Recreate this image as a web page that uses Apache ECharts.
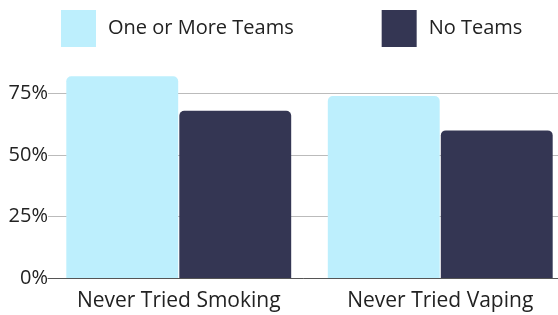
<!DOCTYPE html>
<html>
<head>
<meta charset="utf-8">
<script src="https://cdn.jsdelivr.net/npm/echarts@6/dist/echarts.min.js"></script>
<style>
  html, body { margin: 0; padding: 0; background: #fff; }
  #chart { width: 558px; height: 315px; }
</style>
</head>
<body>
<div id="chart"></div>
<script>
// data
const categories = ["Never Tried Smoking", "Never Tried Vaping"];
const oneOrMore = [82, 74];
const noTeams = [68, 60];

const chart = echarts.init(document.getElementById("chart"));
chart.setOption({
  animation: false,
  textStyle: { fontFamily: "Open Sans" },
  legend: {
    left: 61,
    top: 10,
    padding: 0,
    itemWidth: 35,
    itemHeight: 37,
    itemGap: 88,
    icon: "rect",
    textStyle: { fontSize: 20, color: "#222", padding: [0, 0, 0, 7] },
    data: ["One or More Teams", "No Teams"]
  },
  grid: {
    left: 48,
    width: 523,
    top: 32,
    bottom: 37,
    containLabel: false,
    outerBoundsMode: "none"
  },
  xAxis: {
    type: "category",
    data: categories,
    axisTick: { show: false },
    axisLine: { lineStyle: { color: "#555", width: 1 } },
    axisLabel: { fontSize: 21, color: "#222", margin: 13, interval: 0, hideOverlap: false }
  },
  yAxis: {
    type: "value",
    min: 0,
    max: 100,
    interval: 25,
    axisLine: { show: false },
    axisTick: { show: false },
    axisLabel: {
      fontSize: 20,
      color: "#222",
      margin: 0,
      showMaxLabel: false,
      formatter: "{value}%"
    },
    splitLine: { showMaxLine: false, lineStyle: { color: "#bbb" } }
  },
  series: [
    {
      name: "One or More Teams",
      type: "bar",
      data: oneOrMore,
      barGap: "1%",
      barCategoryGap: "14%",
      itemStyle: { color: "#bdeffd", borderRadius: [5, 5, 0, 0] }
    },
    {
      name: "No Teams",
      type: "bar",
      data: noTeams,
      itemStyle: { color: "#343653", borderRadius: [5, 5, 0, 0] }
    }
  ]
});
</script>
</body>
</html>
